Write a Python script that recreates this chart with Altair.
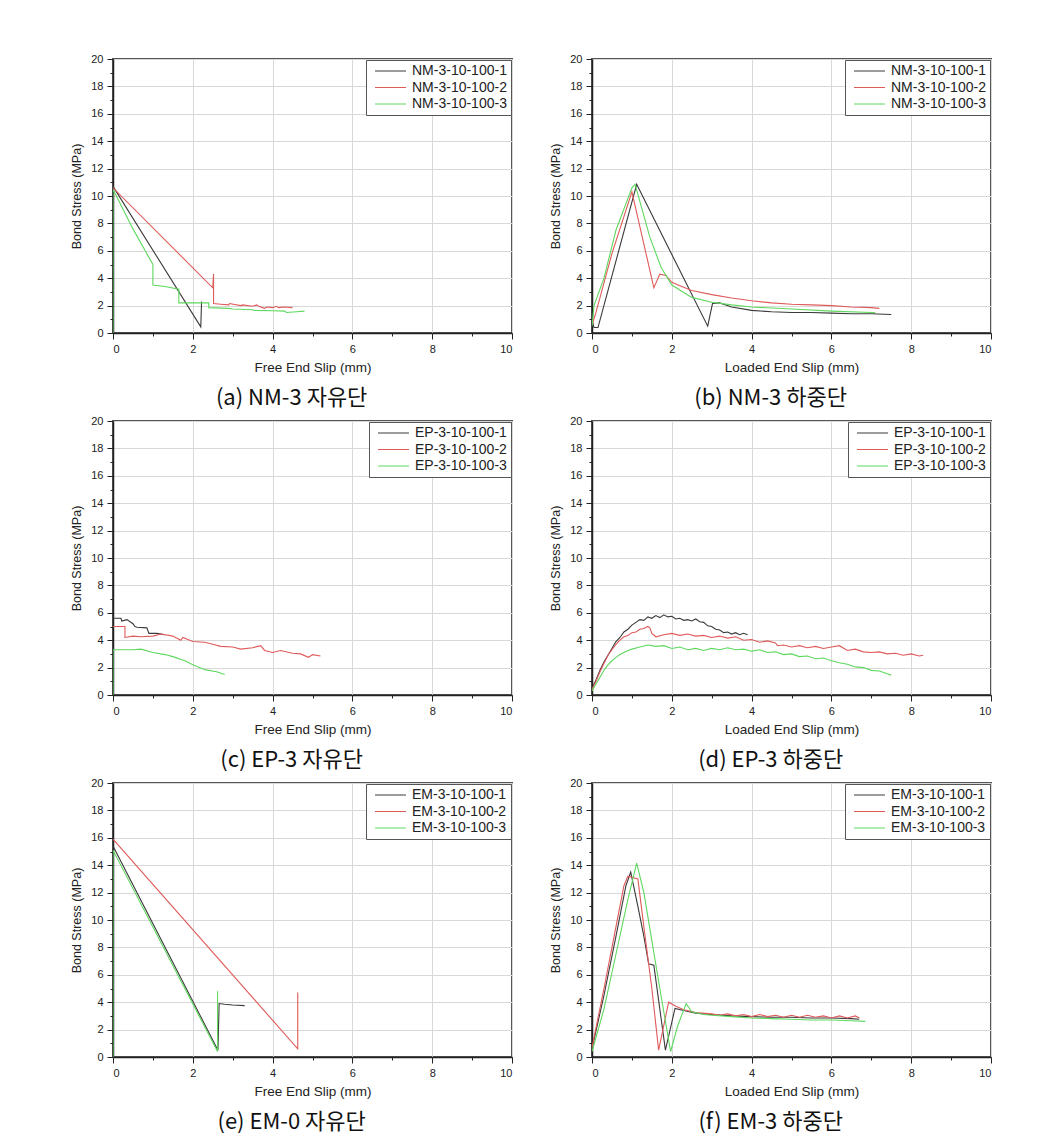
import altair as alt
import pandas as pd

# ---------------- data ----------------
X_MAJOR = [0, 2, 4, 6, 8, 10]
X_MINOR = [1, 3, 5, 7, 9]
Y_MAJOR = [0, 2, 4, 6, 8, 10, 12, 14, 16, 18, 20]
Y_MINOR = [1, 3, 5, 7, 9, 11, 13, 15, 17, 19]
COLORS = ["#3a3a3a", "#e05a5a", "#5fd85f"]

NM = ["NM-3-10-100-1", "NM-3-10-100-2", "NM-3-10-100-3"]
EP = ["EP-3-10-100-1", "EP-3-10-100-2", "EP-3-10-100-3"]
EM = ["EM-3-10-100-1", "EM-3-10-100-2", "EM-3-10-100-3"]

CAPTIONS = ["(a) NM-3 자유단", "(b) NM-3 하중단", "(c) EP-3 자유단",
            "(d) EP-3 하중단", "(e) EM-0 자유단", "(f) EM-3 하중단"]
XTITLES = ["Free End Slip (mm)", "Loaded End Slip (mm)"]
YTITLE = "Bond Stress (MPa)"

# (a) NM-3 free end
A1_X = [0.0, 2.2, 2.22]
A1_Y = [10.7, 0.45, 2.3]
A2_X = [0.0, 2.5, 2.52, 2.52, 2.7, 2.9, 2.92, 3.2, 3.25, 3.5, 3.6, 3.65, 3.8, 3.85, 4.0, 4.1, 4.15, 4.3, 4.5]
A2_Y = [10.6, 3.3, 4.3, 2.15, 2.1, 2.05, 2.15, 2.0, 2.05, 1.95, 2.05, 1.95, 1.8, 1.9, 1.85, 1.95, 1.85, 1.9, 1.85]
A3_X = [0.0, 0.0, 0.5, 1.0, 1.0, 1.3, 1.65, 1.65, 2.0, 2.4, 2.4, 2.9, 3.0, 3.5, 3.55, 4.0, 4.3, 4.35, 4.6, 4.8]
A3_Y = [0.0, 10.5, 7.6, 5.0, 3.5, 3.4, 3.2, 2.2, 2.2, 2.2, 1.85, 1.8, 1.75, 1.7, 1.65, 1.62, 1.6, 1.5, 1.55, 1.6]

# (b) NM-3 loaded end
B1_X = [0.0, 0.05, 0.15, 1.12, 2.9, 3.02, 3.2, 3.5, 4.0, 4.5, 5.0, 5.5, 6.0, 6.5, 7.0, 7.5]
B1_Y = [0.9, 0.4, 0.4, 10.85, 0.5, 2.15, 2.2, 1.9, 1.65, 1.55, 1.5, 1.5, 1.45, 1.4, 1.4, 1.35]
B2_X = [0.0, 0.1, 0.5, 1.0, 1.55, 1.7, 1.85, 2.0, 2.25, 2.5, 3.0, 3.5, 4.0, 4.5, 5.0, 5.5, 6.0, 6.5, 7.0, 7.2]
B2_Y = [0.6, 1.5, 5.8, 10.3, 3.3, 4.3, 4.2, 3.7, 3.4, 3.1, 2.8, 2.55, 2.35, 2.2, 2.1, 2.05, 2.0, 1.9, 1.85, 1.8]
B3_X = [0.0, 0.05, 0.3, 0.6, 1.0, 1.08, 1.45, 1.73, 2.0, 2.5, 3.0, 3.5, 4.0, 5.0, 6.0, 7.0, 7.1]
B3_Y = [0.5, 2.0, 4.0, 7.5, 10.6, 10.85, 7.0, 4.8, 3.5, 2.6, 2.25, 2.05, 1.9, 1.75, 1.6, 1.5, 1.5]

# (c) EP-3 free end
C1_X = [0.0, 0.2, 0.22, 0.35, 0.5, 0.55, 0.6, 0.85, 0.9, 1.1, 1.3]
C1_Y = [5.6, 5.6, 5.4, 5.5, 5.2, 5.0, 4.95, 4.9, 4.5, 4.5, 4.4]
C2_X = [0.0, 0.3, 0.3, 0.5, 0.7, 1.0, 1.2, 1.5, 1.7, 1.75, 2.0, 2.3, 2.5, 2.7, 3.0, 3.2, 3.5, 3.7, 3.8, 4.0, 4.2, 4.5, 4.7, 4.9, 5.0, 5.2]
C2_Y = [5.0, 5.0, 4.2, 4.3, 4.25, 4.3, 4.45, 4.3, 4.0, 4.2, 3.9, 3.85, 3.7, 3.55, 3.5, 3.35, 3.45, 3.6, 3.25, 3.1, 3.25, 3.05, 3.0, 2.75, 2.95, 2.85]
C3_X = [0.0, 0.0, 0.5, 0.7, 1.0, 1.3, 1.5, 1.8, 2.0, 2.3, 2.6, 2.8]
C3_Y = [0.0, 3.3, 3.3, 3.35, 3.1, 2.95, 2.8, 2.5, 2.2, 1.85, 1.7, 1.5]

# (d) EP-3 loaded end
D1_X = [0.0, 0.1, 0.2, 0.3, 0.4, 0.5, 0.6, 0.7, 0.8, 0.9, 1.0, 1.1, 1.2, 1.3, 1.4, 1.5, 1.6, 1.7, 1.8, 1.9,
        2.0, 2.1, 2.2, 2.3, 2.4, 2.5, 2.6, 2.7, 2.8, 2.9, 3.0, 3.1, 3.2, 3.3, 3.4, 3.5, 3.6, 3.7, 3.8, 3.9]
D1_Y = [0.5, 1.1, 1.8, 2.4, 2.9, 3.4, 3.9, 4.2, 4.6, 4.8, 5.1, 5.3, 5.5, 5.45, 5.7, 5.6, 5.8, 5.65, 5.85, 5.7,
        5.75, 5.55, 5.6, 5.45, 5.5, 5.4, 5.55, 5.35, 5.3, 5.05, 5.0, 4.8, 4.75, 4.55, 4.6, 4.45, 4.55, 4.4, 4.5, 4.4]
D2_X = [0.0, 0.1, 0.2, 0.3, 0.4, 0.5, 0.6, 0.7, 0.8, 0.9, 1.0, 1.1, 1.2, 1.3, 1.4, 1.45, 1.5, 1.6, 1.8, 2.0,
        2.2, 2.4, 2.6, 2.8, 3.0, 3.2, 3.4, 3.6, 3.8, 4.0, 4.2, 4.4, 4.6, 4.65, 4.8, 5.0, 5.2, 5.4, 5.6, 5.8,
        6.0, 6.2, 6.4, 6.6, 6.8, 7.0, 7.2, 7.4, 7.6, 7.8, 8.0, 8.2, 8.3]
D2_Y = [0.4, 1.0, 1.7, 2.3, 2.9, 3.3, 3.7, 4.0, 4.25, 4.35, 4.55, 4.6, 4.8, 4.85, 5.0, 4.9, 4.5, 4.25, 4.4, 4.5,
        4.35, 4.45, 4.3, 4.35, 4.2, 4.3, 4.15, 4.25, 4.0, 4.05, 3.85, 3.95, 3.8, 3.6, 3.65, 3.5, 3.6, 3.45, 3.55, 3.4,
        3.5, 3.6, 3.25, 3.35, 3.15, 3.1, 3.15, 3.0, 3.05, 2.9, 3.0, 2.85, 2.9]
D3_X = [0.0, 0.1, 0.2, 0.3, 0.4, 0.5, 0.6, 0.7, 0.8, 0.9, 1.0, 1.2, 1.4, 1.6, 1.8, 2.0, 2.2, 2.4, 2.6, 2.8,
        3.0, 3.2, 3.4, 3.6, 3.8, 4.0, 4.2, 4.4, 4.6, 4.8, 5.0, 5.2, 5.4, 5.6, 5.8, 6.0, 6.2, 6.4, 6.6, 6.8,
        7.0, 7.2, 7.4, 7.5]
D3_Y = [0.3, 0.8, 1.3, 1.8, 2.2, 2.5, 2.75, 2.95, 3.1, 3.25, 3.35, 3.5, 3.65, 3.55, 3.6, 3.4, 3.5, 3.3, 3.4, 3.25,
        3.4, 3.3, 3.45, 3.3, 3.35, 3.2, 3.3, 3.1, 3.15, 2.95, 3.0, 2.8, 2.85, 2.65, 2.7, 2.5, 2.35, 2.25, 2.05, 2.0,
        1.8, 1.75, 1.55, 1.45]

# (e) EM-0 free end
E1_X = [0.0, 2.63, 2.66, 2.8, 3.0, 3.3]
E1_Y = [15.4, 0.5, 3.9, 3.85, 3.8, 3.75]
E2_X = [0.0, 4.63, 4.63]
E2_Y = [15.9, 0.6, 4.7]
E3_X = [0.0, 0.0, 2.62, 2.62]
E3_Y = [0.0, 15.1, 0.4, 4.8]

# (f) EM-3 loaded end
F1_X = [0.0, 0.3, 0.6, 0.85, 0.97, 1.15, 1.3, 1.42, 1.55, 1.84, 2.08, 2.3, 2.6, 3.0, 3.5, 4.0, 4.5, 5.0, 5.5, 6.0, 6.5, 6.7]
F1_Y = [0.6, 4.5, 8.8, 12.5, 13.5, 11.0, 8.8, 6.8, 6.7, 0.5, 3.55, 3.4, 3.2, 3.1, 3.0, 2.95, 2.9, 2.9, 2.85, 2.85, 2.8, 2.75]
F2_X = [0.0, 0.3, 0.6, 0.8, 0.9, 1.15, 1.3, 1.5, 1.67, 1.92, 2.1, 2.3, 2.6, 3.0, 3.2, 3.4, 3.6, 3.8, 4.0, 4.2,
        4.4, 4.6, 4.8, 5.0, 5.2, 5.4, 5.6, 5.8, 6.0, 6.2, 6.4, 6.6, 6.7]
F2_Y = [0.7, 5.0, 9.5, 12.5, 13.2, 13.0, 9.5, 5.0, 0.5, 4.0, 3.7, 3.45, 3.25, 3.15, 3.05, 3.15, 3.0, 3.1, 2.95, 3.1,
        2.95, 3.05, 2.9, 3.05, 2.9, 3.05, 2.9, 3.0, 2.85, 3.0, 2.85, 3.0, 2.85]
F3_X = [0.0, 0.3, 0.6, 0.9, 1.12, 1.3, 1.5, 1.7, 1.97, 2.15, 2.36, 2.5, 2.8, 3.0, 3.5, 4.0, 4.5, 5.0, 5.5, 6.0, 6.5, 6.85]
F3_Y = [0.4, 3.5, 7.5, 11.5, 14.15, 12.0, 8.5, 5.0, 0.4, 2.3, 3.9, 3.3, 3.1, 3.05, 2.95, 2.85, 2.8, 2.75, 2.7, 2.7, 2.65, 2.6]

PANELS = [
    (NM, [(A1_X, A1_Y), (A2_X, A2_Y), (A3_X, A3_Y)], XTITLES[0], CAPTIONS[0]),
    (NM, [(B1_X, B1_Y), (B2_X, B2_Y), (B3_X, B3_Y)], XTITLES[1], CAPTIONS[1]),
    (EP, [(C1_X, C1_Y), (C2_X, C2_Y), (C3_X, C3_Y)], XTITLES[0], CAPTIONS[2]),
    (EP, [(D1_X, D1_Y), (D2_X, D2_Y), (D3_X, D3_Y)], XTITLES[1], CAPTIONS[3]),
    (EM, [(E1_X, E1_Y), (E2_X, E2_Y), (E3_X, E3_Y)], XTITLES[0], CAPTIONS[4]),
    (EM, [(F1_X, F1_Y), (F2_X, F2_Y), (F3_X, F3_Y)], XTITLES[1], CAPTIONS[5]),
]

LABEL_FONT = "Liberation Sans"
PW, PH = 399, 274


def panel(names, series, xtitle, caption):
    rows = []
    for name, (xs, ys) in zip(names, series):
        for i, (x, y) in enumerate(zip(xs, ys)):
            rows.append({"series": name, "x": x, "y": y, "i": i})
    df = pd.DataFrame(rows)
    base = alt.Chart(df)
    xscale = alt.Scale(domain=[0, 10], nice=False, zero=False)
    yscale = alt.Scale(domain=[0, 20], nice=False, zero=False)
    lines = base.mark_line(strokeWidth=1.1, clip=True).encode(
        x=alt.X("x:Q", scale=xscale,
                axis=alt.Axis(values=X_MAJOR, title=xtitle, orient="bottom",
                              grid=True, titlePadding=6, titleFontSize=13.5)),
        y=alt.Y("y:Q", scale=yscale,
                axis=alt.Axis(values=Y_MAJOR, title=YTITLE, orient="left",
                              grid=True, titlePadding=7, titleFontSize=12.5)),
        color=alt.Color("series:N", sort=names,
                        scale=alt.Scale(domain=names, range=COLORS),
                        legend=alt.Legend(
                            title=None, orient="top-right", offset=1,
                            padding=4, strokeColor="#555", fillColor="white",
                            labelFont=LABEL_FONT, labelFontSize=14,
                            labelColor="#222", symbolType="M-0.4,0L5.8,0",
                            symbolSize=100, symbolStrokeWidth=1,
                            labelOffset=28, rowPadding=2.5)),
        order="i:Q",
    )
    minor = base.mark_point(opacity=0).encode(
        x=alt.X("x:Q", axis=alt.Axis(values=X_MINOR, orient="bottom", labels=False,
                                     grid=False, domain=False, tickSize=3, title=None)),
        y=alt.Y("y:Q", axis=alt.Axis(values=Y_MINOR, orient="left", labels=False,
                                     grid=False, domain=False, tickSize=3, title=None)),
    )
    return alt.layer(lines, minor).resolve_axis(
        x="independent", y="independent"
    ).properties(
        width=PW, height=PH,
        title=alt.TitleParams(text=caption, orient="bottom", anchor="middle",
                              frame="bounds", font="Noto Sans CJK KR",
                              fontSize=22, fontWeight="normal", color="#111",
                              offset=14),
    )


charts = [panel(*p) for p in PANELS]
rows = [
    alt.hconcat(charts[k], charts[k + 1], spacing=34)
    .resolve_scale(color="independent").resolve_legend(color="independent")
    for k in (0, 2, 4)
]
chart = alt.vconcat(*rows, spacing=4).resolve_scale(
    color="independent"
).resolve_legend(
    color="independent"
).properties(
    padding={"left": 61, "top": 44, "right": 5, "bottom": 0}
).configure_view(
    stroke="#555", strokeWidth=2
).configure_axis(
    labelFont=LABEL_FONT, labelFontSize=11, labelColor="#222",
    titleFont=LABEL_FONT, titleFontWeight="normal", titleColor="#222",
    tickColor="#222", tickSize=6, labelPadding=4,
    domainColor="#222", domainWidth=1.5,
    gridColor="#d8d8d8", gridWidth=1,
)

chart.save("out.html", embed_options={"renderer": "svg", "actions": False})
